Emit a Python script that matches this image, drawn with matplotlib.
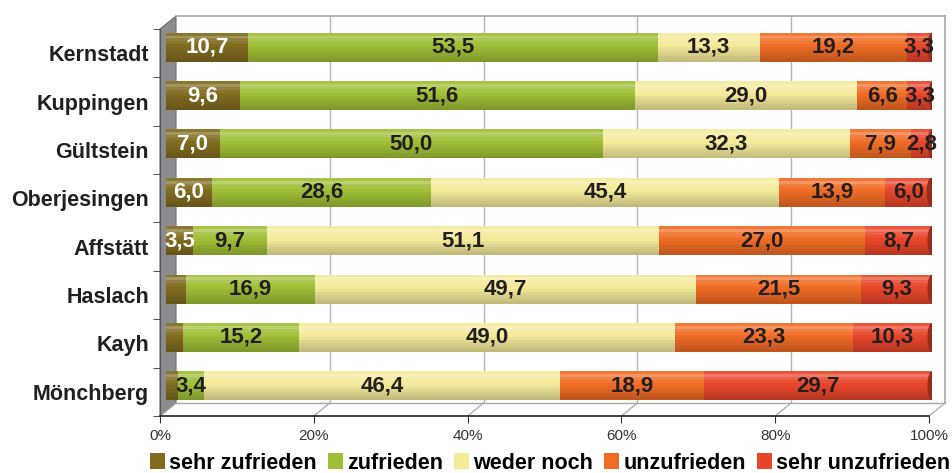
import matplotlib
matplotlib.use("Agg")
import matplotlib.pyplot as plt
import matplotlib.colors as mcolors
import numpy as np
from matplotlib.patches import Ellipse, Polygon, Rectangle

plt.rcParams["font.family"] = ["Liberation Sans", "DejaVu Sans"]

# --- data -------------------------------------------------------------
orte = ["Kernstadt", "Kuppingen", "Gültstein", "Oberjesingen",
        "Affstätt", "Haslach", "Kayh", "Mönchberg"]
sehr_zufrieden = [10.7, 9.6, 7.0, 6.0, 3.5, 2.6, 2.2, 1.6]
zufrieden = [53.5, 51.6, 50.0, 28.6, 9.7, 16.9, 15.2, 3.4]
weder_noch = [13.3, 29.0, 32.3, 45.4, 51.1, 49.7, 49.0, 46.4]
unzufrieden = [19.2, 6.6, 7.9, 13.9, 27.0, 21.5, 23.3, 18.9]
sehr_unzufrieden = [3.3, 3.3, 2.8, 6.0, 8.7, 9.3, 10.3, 29.7]
# which values carry a printed label (Haslach/Kayh "sehr zufrieden" are unlabelled)
show_sz = [True, True, True, True, True, False, False, False]

series = [
    ("sehr zufrieden", sehr_zufrieden, "#806c1f", "white"),
    ("zufrieden", zufrieden, "#9fbf36", "#231f20"),
    ("weder noch", weder_noch, "#f3ea9a", "#231f20"),
    ("unzufrieden", unzufrieden, "#f06c26", "#231f20"),
    ("sehr unzufrieden", sehr_unzufrieden, "#e8462a", "#231f20"),
]
ticks = [0, 20, 40, 60, 80, 100]

W, H = 952, 473


def box(x0, y0, x1, y1):
    return [x0 / W, 1 - y1 / H, (x1 - x0) / W, (y1 - y0) / H]


def shade(c, f):
    r, g, b = mcolors.to_rgb(c)
    if f > 0:
        return (r + (1 - r) * f, g + (1 - g) * f, b + (1 - b) * f)
    return (r * (1 + f), g * (1 + f), b * (1 + f))


fig = plt.figure(figsize=(W / 100, H / 100), dpi=100)

# pseudo-3D frame in pixel coordinates
deco = fig.add_axes([0, 0, 1, 1], zorder=0)
deco.set_xlim(0, W)
deco.set_ylim(H, 0)
deco.axis("off")
deco.add_patch(Polygon([(160, 29), (176, 16), (176, 403), (160, 416)],
                       closed=True, fc="#8a8c90", ec="#6a6c70", lw=0.8))
for t in ticks:
    fx = 160 + t / 100 * 769
    deco.plot([fx, fx + 16], [416, 403], color="#a8a8a8", lw=0.9)
deco.plot([176, 945], [403, 403], color="#a8a8a8", lw=1.0)

# back wall with gridlines
back = fig.add_axes(box(176, 16, 945, 403), zorder=1)
back.patch.set_alpha(0)
back.set_xlim(0, 100)
back.set_xticks(ticks[1:-1])
back.set_yticks([])
back.tick_params(length=0, labelbottom=False)
back.grid(axis="x", color="#b4b4b4", lw=1.0)
for side in ["left", "bottom"]:
    back.spines[side].set_visible(False)
for side in ["top", "right"]:
    back.spines[side].set_color("#a8a8a8")
    back.spines[side].set_linewidth(1.2)

# front axis: tick labels and category names
front = fig.add_axes(box(160, 29, 929, 416), zorder=2)
front.patch.set_alpha(0)
front.set_xlim(0, 100)
front.set_ylim(len(orte) - 0.5, -0.5)
front.set_xticks(ticks)
front.set_xticklabels([f"{t}%" for t in ticks], fontsize=11, color="#333333")
front.set_yticks(range(len(orte)))
front.set_yticklabels(orte, fontsize=15.5, fontweight="bold", color="#231f20")
front.set_yticks(np.arange(len(orte) + 1) - 0.5, minor=True)
front.tick_params(axis="y", which="major", length=0, pad=8)
front.tick_params(axis="y", which="minor", length=5, color="#333333")
front.tick_params(axis="x", length=5, pad=4, color="#333333")
for side in ["top", "right"]:
    front.spines[side].set_visible(False)
front.spines["left"].set_color("#555555")
front.spines["bottom"].set_color("#222222")
front.spines["bottom"].set_linewidth(1.2)

# bars
ax = fig.add_axes(box(166, 23, 932, 410), zorder=3)
ax.patch.set_alpha(0)
ax.set_xlim(0, 100)
ax.set_ylim(len(orte) - 0.5, -0.5)
ax.axis("off")

y = np.arange(len(orte))
bh = 0.6
# vertical shading profile (top -> bottom) to fake a cylinder
profile = [0.08, 0.28, 0.14, 0.06, 0.0, -0.04, -0.08, -0.12, -0.16, -0.2]
strip = bh / len(profile)
left = np.zeros(len(orte))
for name, vals, col, tcol in series:
    vals = np.array(vals)
    for k, f in enumerate(profile):
        yc = y - bh / 2 + strip * (k + 0.5)
        ax.barh(yc, vals, left=left, height=strip * 1.02,
                color=shade(col, f), lw=0,
                label=name if k == 4 else None)
    for i, (v, l) in enumerate(zip(vals, left)):
        if name == "sehr zufrieden" and not show_sz[i]:
            continue
        ax.text(l + v / 2, i, f"{v:.1f}".replace(".", ","), ha="center",
                va="center", fontsize=16, fontweight="bold", color=tcol,
                zorder=5)
    left = left + vals

# darker end caps on the right of each cylinder
last_col = series[-1][2]
for i, tot in enumerate(left):
    ax.add_patch(Ellipse((tot, i), 1.2, bh, fc=shade(last_col, -0.35),
                         ec="none", zorder=2.5))

handles = [Rectangle((0, 0), 1, 1, fc=c, ec="none") for _, _, c, _ in series]
fig.legend(handles, [s[0] for s in series], loc="center",
           bbox_to_anchor=(550 / W, 1 - 463 / H), ncol=5, frameon=False,
           handlelength=0.7, handleheight=0.7, handletextpad=0.2,
           columnspacing=0.5, borderaxespad=0,
           prop={"size": 15.5, "weight": "bold"})

fig.savefig("out.png", dpi=100)
